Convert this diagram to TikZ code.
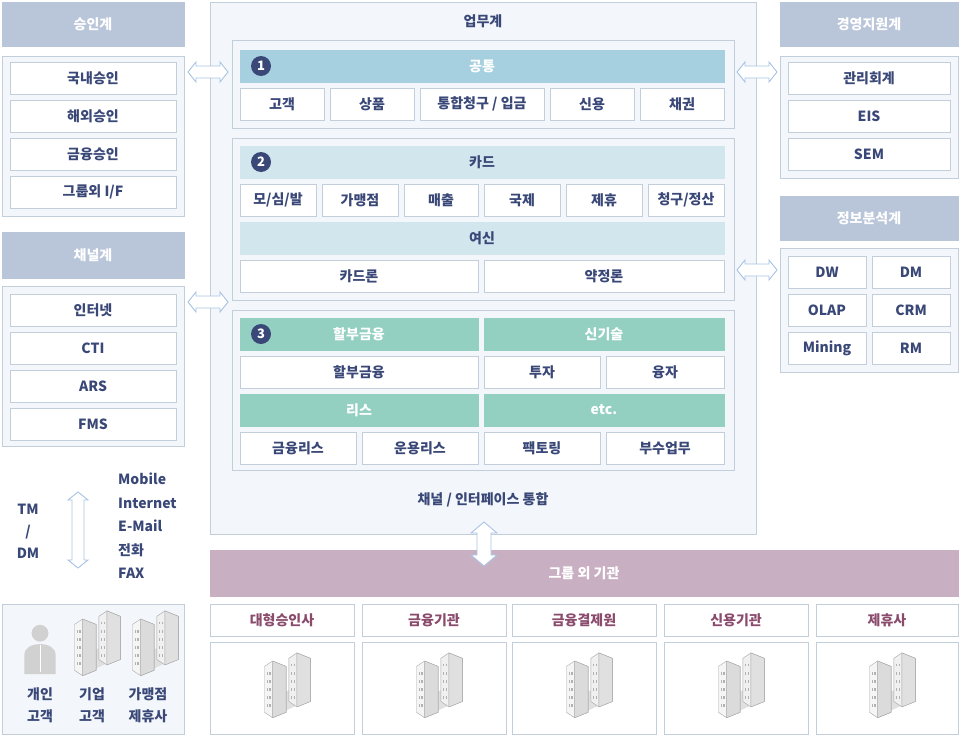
\documentclass[tikz,border=0pt]{standalone}
\usepackage{fontspec}
\setmainfont{Noto Sans CJK KR}
\usetikzlibrary{positioning}

\definecolor{ink}{HTML}{3A4878}
\definecolor{hdrblue}{HTML}{B9C5D9}
\definecolor{panelbg}{HTML}{F3F6FA}
\definecolor{edge}{HTML}{C3CEDB}
\definecolor{barone}{HTML}{A6D0E0}
\definecolor{bartwo}{HTML}{D2E6EE}
\definecolor{barthree}{HTML}{93D0C2}
\definecolor{mauve}{HTML}{C9AFC2}
\definecolor{mauveink}{HTML}{8A4B6C}
\definecolor{arrowline}{HTML}{A9C4E4}

\tikzset{
  box/.style={draw=edge, line width=0.8pt, inner sep=0pt, outer sep=0pt, font=\fontsize{14}{16}\selectfont\bfseries, text=ink},
  hdr/.style={box, fill=hdrblue, draw=hdrblue, text=white},
  panel/.style={box, fill=panelbg},
  item/.style={box, fill=white},
  barA/.style={box, fill=barone, draw=barone, text=white},
  barB/.style={box, fill=bartwo, draw=bartwo},
  barC/.style={box, fill=barthree, draw=barthree, text=white},
  group/.style={box, fill=mauve, draw=mauve, text=white},
  org/.style={box, fill=white, text=mauveink},
  numdot/.style={circle, fill=ink, text=white, inner sep=0pt, minimum size=20pt, font=\fontsize{13}{13}\selectfont\bfseries},
  plain/.style={inner sep=0pt, font=\fontsize{14}{22}\selectfont\bfseries, text=ink, align=center},
  hollow/.style={draw=arrowline, line width=0.9pt, fill=white},
  building/.pic={
    \begin{scope}[scale=1.35]
    \fill[black!12] (3,18) -- (16,12) -- (16,-2) -- (3,4) -- cycle;
    \draw[black!35, fill=black!6] (8,-22) -- (14,-26) -- (24,-22) -- (24,10) -- (14,14) -- (8,10) -- cycle;
    \draw[black!35, fill=black!12] (14,-26) -- (24,-22) -- (24,10) -- (14,14) -- cycle;
    \draw[black!35, fill=black!4] (-10,-16) -- (-4,-20) -- (6,-16) -- (6,18) -- (-4,22) -- (-10,18) -- cycle;
    \draw[black!35, fill=black!14] (-4,-20) -- (6,-16) -- (6,18) -- (-4,22) -- cycle;
    \foreach \wy in {-12,-6,...,12} {
      \fill[black!30] (-8.5,\wy) rectangle (-7.5,\wy+2);
      \fill[black!30] (-6.5,\wy) rectangle (-5.5,\wy+2);
      \fill[black!30] (9.5,\wy-6) rectangle (10.5,\wy-4);
      \fill[black!30] (11.5,\wy-6) rectangle (12.5,\wy-4);
    }
    \end{scope}
  },
  person/.pic={
    \begin{scope}[scale=1.2]
    \fill[black!18] (0,-14) circle (7);
    \fill[black!18] (-13,20) -- (-13,4) to[out=90,in=180] (0,-5) to[out=0,in=90] (13,4) -- (13,20) -- cycle;
    \draw[white, line width=0.6pt] (0,-4) -- (0,18);
    \end{scope}
  },
  hbar/.pic={
    \draw[hollow] (-20,0) -- (-12,-10) -- (-12,-6) -- (12,-6) -- (12,-10) -- (20,0)
      -- (12,10) -- (12,6) -- (-12,6) -- (-12,10) -- cycle;
  },
  vbar/.pic={
    \draw[hollow] (0,-38) -- (-10,-30) -- (-6,-30) -- (-6,30) -- (-10,30) -- (0,38)
      -- (10,30) -- (6,30) -- (6,-30) -- (10,-30) -- cycle;
  }
}

% cell: name, x1, y1, x2, y2, style, text
\newcommand{\cell}[7]{%
  \node[#6, minimum width={(#4-#2)*1pt}, minimum height={(#5-#3)*1pt}]
    (#1) at ({(#2+#4)/2},{(#3+#5)/2}) {#7};}

\begin{document}
\begin{tikzpicture}[x=1pt, y=-1pt]
  \useasboundingbox (0,0) rectangle (960,736);

  % left column
  \cell{apphdr}{2}{2}{184}{46}{hdr}{승인계}
  \cell{apppanel}{2}{56}{184}{216}{panel}{}
  \cell{dom}{10}{62}{176}{94}{item}{국내승인}
  \cell{ovs}{10}{100}{176}{132}{item}{해외승인}
  \cell{fin}{10}{138}{176}{170}{item}{금융승인}
  \cell{extif}{10}{176}{176}{208}{item}{그룹외 I/F}
  \cell{chhdr}{2}{232}{184}{278}{hdr}{채널계}
  \cell{chpanel}{2}{286}{184}{446}{panel}{}
  \cell{web}{10}{294}{176}{326}{item}{인터넷}
  \cell{cti}{10}{332}{176}{364}{item}{CTI}
  \cell{ars}{10}{370}{176}{402}{item}{ARS}
  \cell{fms}{10}{408}{176}{440}{item}{FMS}

  \node[plain] (tmdm) at (28,531) {TM\\/\\DM};
  \pic at (78,530) {vbar};
  \node[plain, align=left, anchor=west, font=\fontsize{14}{23.5}\selectfont\bfseries] (media) at (118,526)
    {Mobile\\Internet\\E-Mail\\전화\\FAX};

  \cell{custpanel}{2}{604}{184}{734}{panel}{}
  \pic at (40,650) {person};
  \pic at (88,646) {building};
  \pic at (146,646) {building};
  \node[plain] (indiv) at (40,705) {개인\\고객};
  \node[plain] (corp) at (92,705) {기업\\고객};
  \node[plain] (merch) at (148,705) {가맹점\\제휴사};

  % business system
  \cell{biz}{210}{2}{756}{534}{panel}{}
  \node[plain] (biztitle) at (483,21) {업무계};
  \node[plain] (bizfoot) at (483,500) {채널 / 인터페이스 통합};

  \cell{secone}{232}{40}{734}{128}{panel}{}
  \cell{common}{240}{50}{724}{82}{barA}{공통}
  \node[numdot] at (261,66) {1};
  \cell{cust}{240}{88}{324}{120}{item}{고객}
  \cell{prod}{330}{88}{414}{120}{item}{상품}
  \cell{bill}{420}{88}{544}{120}{item}{통합청구 / 입금}
  \cell{credit}{550}{88}{634}{120}{item}{신용}
  \cell{bond}{640}{88}{724}{120}{item}{채권}

  \cell{sectwo}{232}{138}{734}{300}{panel}{}
  \cell{card}{240}{146}{724}{178}{barB}{카드}
  \node[numdot] at (261,162) {2};
  \cell{issue}{240}{184}{316}{216}{item}{모/심/발}
  \cell{store}{322}{184}{398}{216}{item}{가맹점}
  \cell{sales}{404}{184}{478}{216}{item}{매출}
  \cell{intl}{484}{184}{560}{216}{item}{국제}
  \cell{alli}{566}{184}{642}{216}{item}{제휴}
  \cell{settle}{648}{184}{724}{216}{item}{청구/정산}
  \cell{loan}{240}{222}{724}{254}{barB}{여신}
  \cell{cardloan}{240}{260}{478}{292}{item}{카드론}
  \cell{termloan}{484}{260}{724}{292}{item}{약정론}

  \cell{secthree}{232}{310}{734}{470}{panel}{}
  \cell{instbar}{240}{318}{478}{350}{barC}{할부금융}
  \node[numdot] at (261,334) {3};
  \cell{techbar}{484}{318}{724}{350}{barC}{신기술}
  \cell{inst}{240}{356}{478}{388}{item}{할부금융}
  \cell{invest}{484}{356}{600}{388}{item}{투자}
  \cell{lend}{606}{356}{724}{388}{item}{융자}
  \cell{leasebar}{240}{394}{478}{426}{barC}{리스}
  \cell{etcbar}{484}{394}{724}{426}{barC}{etc.}
  \cell{finlease}{240}{432}{356}{464}{item}{금융리스}
  \cell{oplease}{362}{432}{478}{464}{item}{운용리스}
  \cell{factor}{484}{432}{600}{464}{item}{팩토링}
  \cell{aux}{606}{432}{724}{464}{item}{부수업무}

  % right column
  \cell{mgmthdr}{780}{2}{958}{46}{hdr}{경영지원계}
  \cell{mgmtpanel}{780}{56}{958}{178}{panel}{}
  \cell{acct}{788}{62}{950}{94}{item}{관리회계}
  \cell{eis}{788}{100}{950}{132}{item}{EIS}
  \cell{sem}{788}{138}{950}{170}{item}{SEM}
  \cell{infohdr}{780}{196}{958}{240}{hdr}{정보분석계}
  \cell{infopanel}{780}{248}{958}{372}{panel}{}
  \cell{dw}{788}{256}{866}{288}{item}{DW}
  \cell{dm}{872}{256}{950}{288}{item}{DM}
  \cell{olap}{788}{294}{866}{326}{item}{OLAP}
  \cell{crm}{872}{294}{950}{326}{item}{CRM}
  \cell{mining}{788}{332}{866}{364}{item}{Mining}
  \cell{rm}{872}{332}{950}{364}{item}{RM}

  % external institutions
  \cell{ext}{210}{550}{958}{596}{group}{그룹 외 기관}
  \foreach \nm/\xa/\xb/\lbl in {van/210/354/대형승인사, bank/362/506/금융기관,
      kftc/512/656/금융결제원, cb/664/808/신용기관, partner/816/958/제휴사} {
    \cell{\nm}{\xa}{604}{\xb}{636}{org}{\lbl}
    \cell{\nm pic}{\xa}{642}{\xb}{734}{item}{}
    \pic at ({(\xa+\xb)/2-4},688) {building};
  }

  % links
  \pic at (208,72) {hbar};
  \pic at (208,302) {hbar};
  \pic at (757,72) {hbar};
  \pic at (757,270) {hbar};
  \draw[hollow] (484,522) -- (497,533) -- (491,533) -- (491,555) -- (497,555) -- (484,566)
    -- (471,555) -- (477,555) -- (477,533) -- (471,533) -- cycle;
\end{tikzpicture}
\end{document}
